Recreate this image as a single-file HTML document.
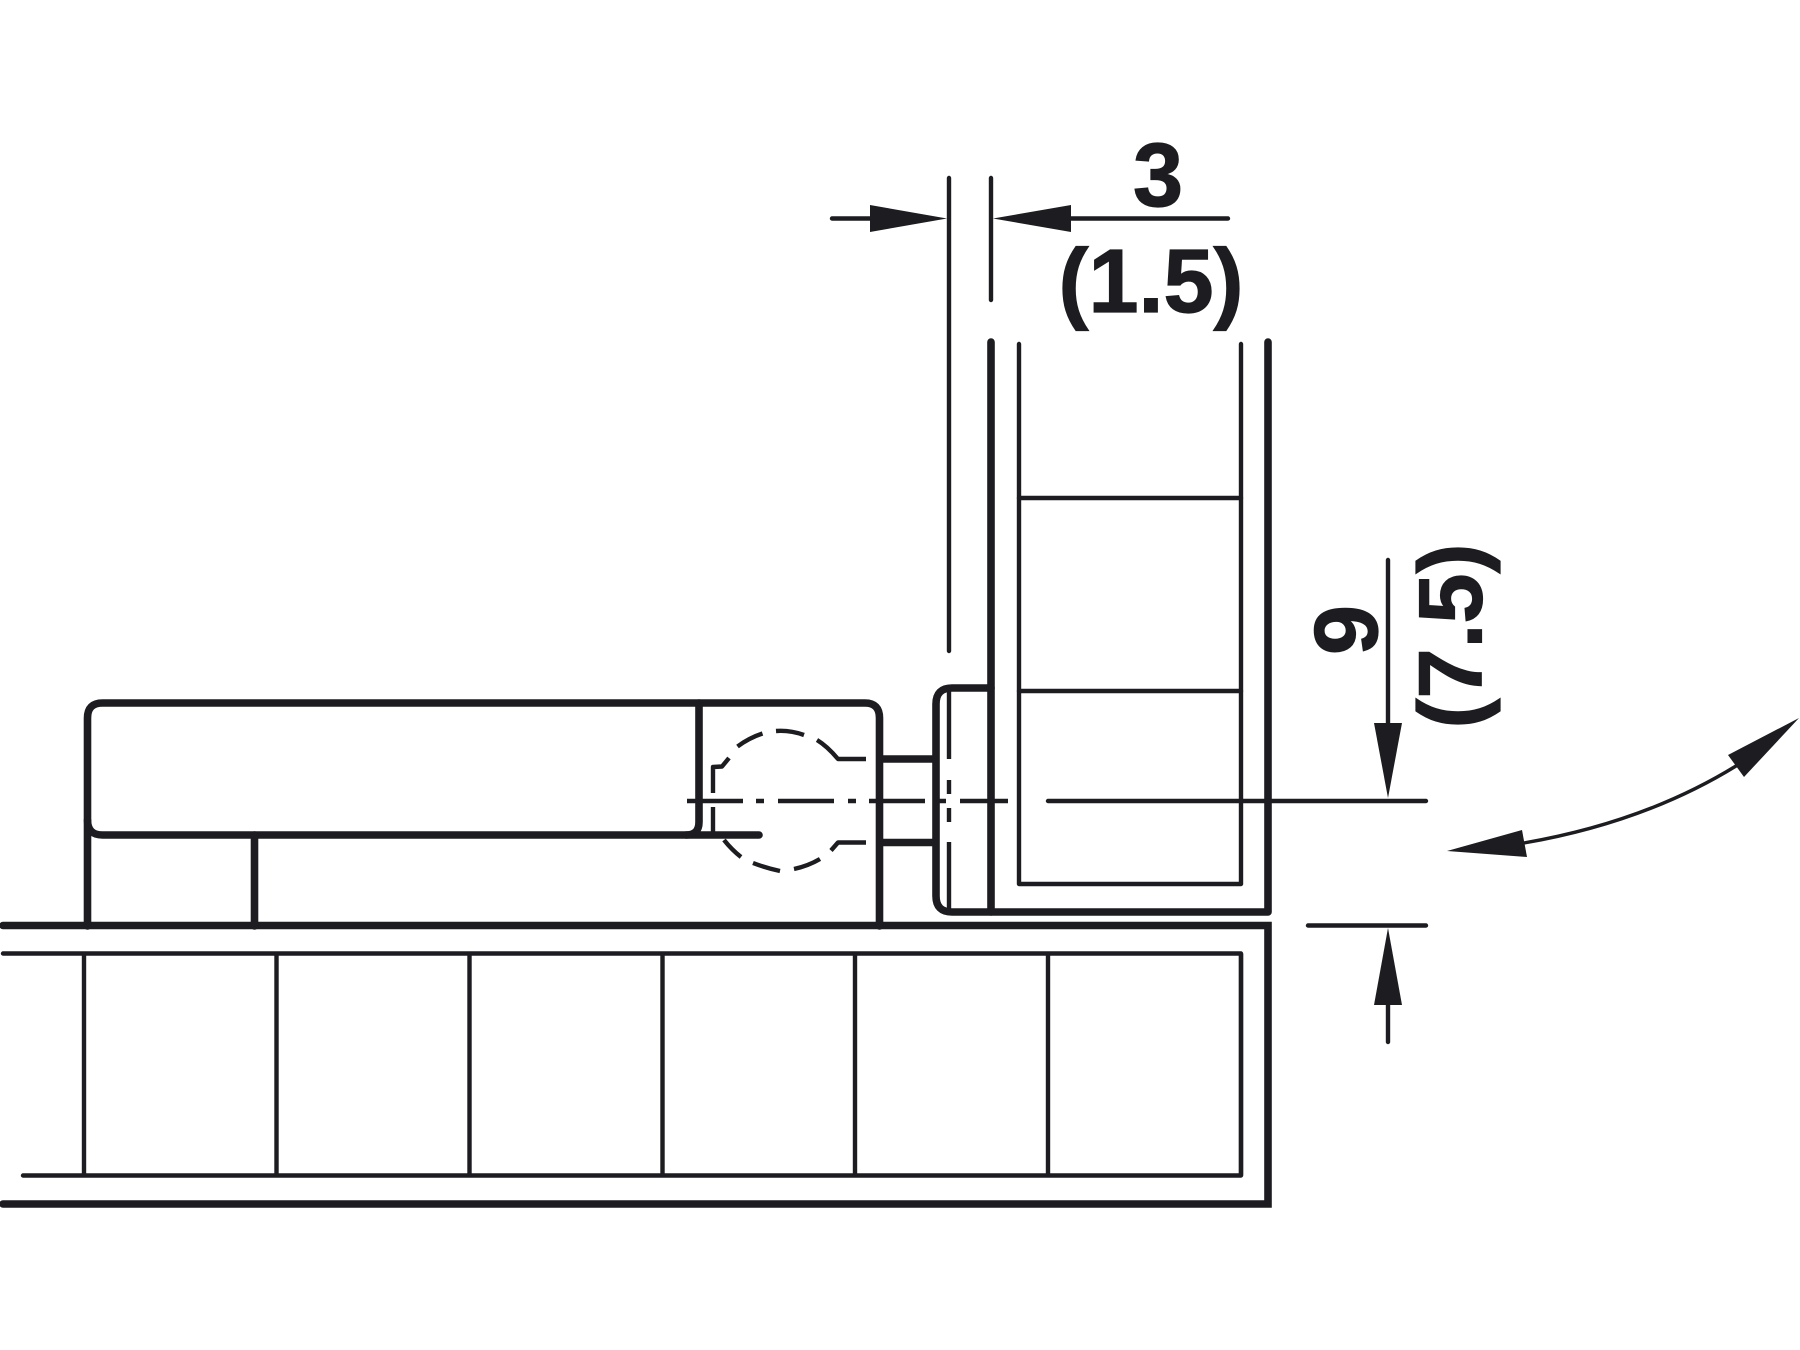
<!DOCTYPE html>
<html>
<head>
<meta charset="utf-8">
<style>
html,body{margin:0;padding:0;background:#fff;}
svg{display:block;}
text{font-family:"Liberation Sans",sans-serif;font-weight:bold;fill:#1d1c20;stroke:#1d1c20;stroke-width:1.2px;font-size:90px;}
</style>
</head>
<body>
<svg width="1800" height="1350" viewBox="0 0 1800 1350" xmlns="http://www.w3.org/2000/svg">
<rect width="1800" height="1350" fill="#fff"/>
<g fill="none" stroke="#1d1c20" stroke-linecap="round" stroke-linejoin="round">
<!-- thick outlines -->
<g stroke-width="7.6">
<path d="M3 925.5H1268V1204H3" stroke-linejoin="miter"/>
<path d="M87.5 926V718Q87.5 703 102.5 703H865Q879.5 703 879.5 718V926"/>
<path d="M87.5 820Q87.5 835 102.5 835H759"/>
<path d="M699 703V822Q699 835 686 835"/>
<path d="M254.5 835V926"/>
<path d="M991 342V912"/>
<path d="M1268 342V912H952Q936 912 936 896V704Q936 688 952 688H991"/>
<path d="M881 759H935M881 842.5H935" stroke-linecap="butt"/>
</g>
<!-- thin part outlines -->
<g stroke-width="4.4">
<path d="M3 953.5H1241V1175.5H23"/>
<path d="M84 954V1175M276.5 954V1175M469.5 954V1175M662.5 954V1175M855 954V1175M1048 954V1175M1241 954V1175"/>
<path d="M1019 344V884H1241V344"/>
<path d="M1019 498H1241M1019 691H1241"/>
<path d="M949 178V651"/>
<path d="M991 178V300"/>
<path d="M949 690V759M949 780V794M949 808V822M949 842V910" stroke-linecap="butt"/>
<!-- centre line -->
<path d="M687 801H743M756 801H764M778 801H834M848 801H856M869 801H925M937 801H946M960 801H1008" stroke-linecap="butt"/>
<path d="M1048 801H1426"/>
<!-- dashed circle -->
<g stroke-linecap="butt">
<path d="M737.5 746.5Q749 738 762.5 733.5"/>
<path d="M776 731Q790 730 804 735"/>
<path d="M817 740Q827 746 838 759H866"/>
<path d="M729 758L722 766.5L713 767V793"/>
<path d="M713 807V833"/>
<path d="M724 840Q732 850 741 857"/>
<path d="M753 863Q766 868 780 871"/>
<path d="M794 869Q808 866 820 859"/>
<path d="M831 850.5L838 842.5H866"/>
</g>
</g>
<!-- dimension lines -->
<g stroke-width="4.4">
<path d="M832 218.5H872"/>
<path d="M1070 218.5H1228"/>
<path d="M1388 560V724"/>
<path d="M1308 925.5H1426"/>
<path d="M1388 1004V1042"/>
</g>
<path d="M1524 843Q1645 822 1736 766" stroke-width="3.4"/>
</g>
<!-- arrowheads -->
<g fill="#1d1c20">
<polygon points="870,205 947,218.5 870,232"/>
<polygon points="1071,205 993,218.5 1071,232"/>
<polygon points="1374,723 1402,723 1388,798"/>
<polygon points="1374,1005 1402,1005 1388,928"/>
<polygon points="1799,718 1728,755 1744,777"/>
<polygon points="1447,851 1522,830 1527,857"/>
</g>
<!-- labels -->
<text x="1158" y="206" text-anchor="middle">3</text>
<text x="1151" y="312" text-anchor="middle">(1.5)</text>
<text transform="translate(1377 630) rotate(-90)" text-anchor="middle">9</text>
<text transform="translate(1481.5 636) rotate(-90)" text-anchor="middle">(7.5)</text>
</svg>
</body>
</html>
